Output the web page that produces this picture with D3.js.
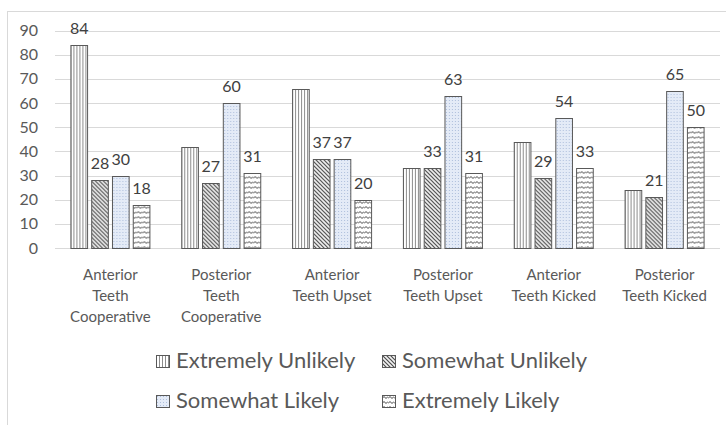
<!DOCTYPE html>
<html>
<head>
<meta charset="utf-8">
<script src="https://cdn.jsdelivr.net/npm/d3@7"></script>
<style>
  body { margin: 0; background: #fff; }
  svg text { font-family: Lato, "Open Sans", sans-serif; }
</style>
</head>
<body>
<div id="chart"></div>
<script>
// data
var categories = ["Anterior Teeth Cooperative", "Posterior Teeth Cooperative", "Anterior Teeth Upset",
                  "Posterior Teeth Upset", "Anterior Teeth Kicked", "Posterior Teeth Kicked"];
var categoryLines = [["Anterior", "Teeth", "Cooperative"], ["Posterior", "Teeth", "Cooperative"],
                     ["Anterior", "Teeth Upset"], ["Posterior", "Teeth Upset"],
                     ["Anterior", "Teeth Kicked"], ["Posterior", "Teeth Kicked"]];
var seriesNames = ["Extremely Unlikely", "Somewhat Unlikely", "Somewhat Likely", "Extremely Likely"];
var extremelyUnlikely = [84, 42, 66, 33, 44, 24];
var somewhatUnlikely = [28, 27, 37, 33, 29, 21];
var somewhatLikely = [30, 60, 37, 63, 54, 65];
var extremelyLikely = [18, 31, 20, 31, 33, 50];
// the picture only labels the first "extremely unlikely" bar
var extremelyUnlikelyLabelled = [true, false, false, false, false, false];
var yTicks = [0, 10, 20, 30, 40, 50, 60, 70, 80, 90];

var seriesValues = [extremelyUnlikely, somewhatUnlikely, somewhatLikely, extremelyLikely];
var patternIds = ["pVert", "pDiag", "pDots", "pWave"];

var width = 726, height = 425;
var svg = d3.select("#chart").append("svg")
    .attr("width", width)
    .attr("height", height);

// patterns
var defs = svg.append("defs");

var pv = defs.append("pattern").attr("id", "pVert")
    .attr("patternUnits", "userSpaceOnUse").attr("width", 3).attr("height", 3);
pv.append("rect").attr("width", 3).attr("height", 3).attr("fill", "#fff");
pv.append("rect").attr("x", 0).attr("width", 1).attr("height", 3).attr("fill", "#8c8c8c");

var pd = defs.append("pattern").attr("id", "pDiag")
    .attr("patternUnits", "userSpaceOnUse").attr("width", 4).attr("height", 4);
pd.append("rect").attr("width", 4).attr("height", 4).attr("fill", "#f2f2f2");
pd.append("path").attr("d", "M-1,-1 L5,5 M-1,3 L1,5 M3,-1 L5,1")
    .attr("stroke", "#4d4d4d").attr("stroke-width", 1.2);

var pdot = defs.append("pattern").attr("id", "pDots")
    .attr("patternUnits", "userSpaceOnUse").attr("width", 3).attr("height", 3);
pdot.append("rect").attr("width", 3).attr("height", 3).attr("fill", "#e4ebf7");
pdot.append("rect").attr("x", 1).attr("y", 1).attr("width", 1).attr("height", 1).attr("fill", "#aebfdc");

var pw = defs.append("pattern").attr("id", "pWave")
    .attr("patternUnits", "userSpaceOnUse").attr("width", 6).attr("height", 5);
pw.append("rect").attr("width", 6).attr("height", 5).attr("fill", "#fff");
pw.append("path").attr("d", "M0,3.5 L2,1.5 L4,3.5 L6,1.5")
    .attr("fill", "none").attr("stroke", "#404040").attr("stroke-width", 1);

// outer frame of the chart area
svg.append("rect")
    .attr("x", 7.5).attr("y", 11.5)
    .attr("width", 800).attr("height", 500)
    .attr("fill", "none").attr("stroke", "#d9d9d9");

var x0 = d3.scaleBand().domain(categories).range([55, 720]);
var x1 = d3.scaleBand().domain(seriesNames).range([0, 80]).paddingInner(0.15);
var y = d3.scaleLinear().domain([0, 90]).range([248, 30.5]);

// gridlines
svg.append("g").selectAll("line")
    .data(yTicks)
    .join("line")
    .attr("x1", 55).attr("x2", 720)
    .attr("y1", d => Math.round(y(d)) + 0.5)
    .attr("y2", d => Math.round(y(d)) + 0.5)
    .attr("stroke", "#d9d9d9")
    .attr("stroke-width", 1);

// y tick labels
svg.append("g").selectAll("text")
    .data(yTicks)
    .join("text")
    .attr("x", 38)
    .attr("y", d => y(d) + 5.5)
    .attr("text-anchor", "end")
    .attr("font-size", 16)
    .attr("fill", "#595959")
    .text(d => d);

// bars
var groups = svg.append("g").selectAll("g")
    .data(categories)
    .join("g")
    .attr("transform", d => "translate(" + (x0(d) + x0.bandwidth() / 2 - 40) + ",0)");

groups.each(function (cat, ci) {
    var g = d3.select(this);
    seriesNames.forEach(function (s, si) {
        var v = seriesValues[si][ci];
        g.append("rect")
            .attr("x", x1(s) + 0.5)
            .attr("y", Math.round(y(v)) + 0.5)
            .attr("width", x1.bandwidth() - 1)
            .attr("height", Math.round(y(0)) - Math.round(y(v)))
            .attr("fill", "url(#" + patternIds[si] + ")")
            .attr("stroke", "#595959")
            .attr("stroke-width", 1);
        if (si > 0 || extremelyUnlikelyLabelled[ci]) {
            g.append("text")
                .attr("x", x1(s) + x1.bandwidth() / 2)
                .attr("y", y(v) - 11)
                .attr("text-anchor", "middle")
                .attr("font-size", 16)
                .attr("fill", "#404040")
                .text(v);
        }
    });
});

// x labels
var xl = svg.append("g").selectAll("text")
    .data(categories)
    .join("text")
    .attr("x", d => x0(d) + x0.bandwidth() / 2)
    .attr("y", 280)
    .attr("text-anchor", "middle")
    .attr("font-size", 15)
    .attr("fill", "#595959");
xl.each(function (d, i) {
    d3.select(this).selectAll("tspan")
        .data(categoryLines[i])
        .join("tspan")
        .attr("x", x0(d) + x0.bandwidth() / 2)
        .attr("dy", (t, k) => k === 0 ? 0 : 21)
        .text(t => t);
});

// legend
var legendX = [156, 382];
var legendY = [355, 395];
var legend = svg.append("g").selectAll("g")
    .data(seriesNames)
    .join("g")
    .attr("transform", (d, i) => "translate(" + legendX[i % 2] + "," + legendY[Math.floor(i / 2)] + ")");
legend.append("rect")
    .attr("x", 0.5).attr("y", 0.5)
    .attr("width", 13).attr("height", 12)
    .attr("fill", (d, i) => "url(#" + patternIds[i] + ")")
    .attr("stroke", "#595959");
legend.append("text")
    .attr("x", 20)
    .attr("y", 13)
    .attr("font-size", 22)
    .attr("fill", "#595959")
    .text(d => d);
</script>
</body>
</html>
